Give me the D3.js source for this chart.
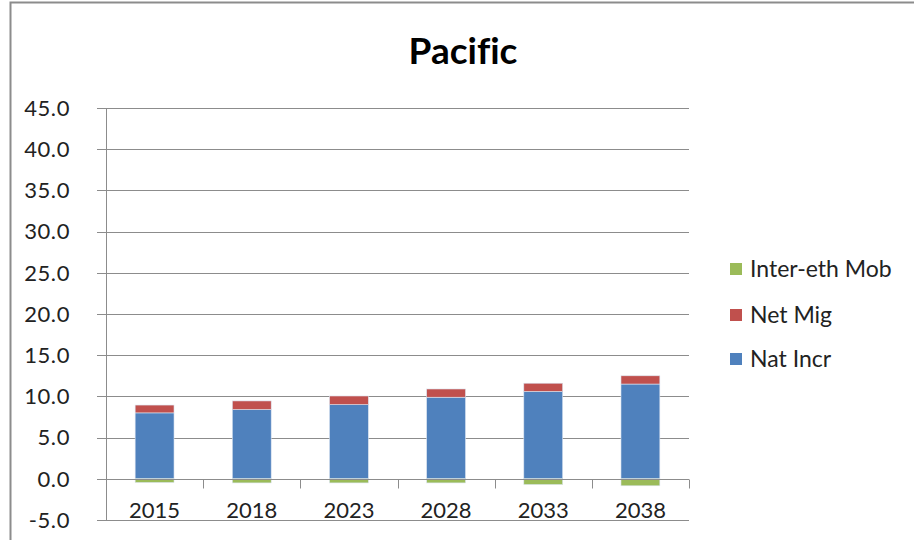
<!DOCTYPE html>
<html><head><meta charset="utf-8">
<script src="https://cdn.jsdelivr.net/npm/d3@7"></script>
<style>html,body{margin:0;padding:0;background:#fff;}svg{display:block;}text{font-variant-ligatures:none;font-feature-settings:"liga" 0;}</style>
</head><body>
<svg id="chart" width="914" height="540"></svg>
<script>
const years = ["2015","2018","2023","2028","2033","2038"];
const natIncr = [8.0, 8.4, 9.0, 9.9, 10.6, 11.5];
const netMig = [0.95, 1.05, 1.05, 1.0, 1.0, 1.0];
const interEthMob = [-0.45, -0.5, -0.5, -0.5, -0.7, -0.85];
const yTicks = [-5, 0, 5, 10, 15, 20, 25, 30, 35, 40, 45];
const seriesNames = ["Inter-eth Mob", "Net Mig", "Nat Incr"];
const seriesColors = ["#9BBB59", "#C0504D", "#4F81BD"];

(function () {
const font = "Lato, 'Open Sans', sans-serif";
const svg = d3.select("#chart");
svg.append("rect").attr("x", 10.5).attr("y", 2.5).attr("width", 960).attr("height", 600)
  .attr("fill", "#fff").attr("stroke", "#8c8c8c").attr("stroke-width", 2);

const pLeft = 106, pRight = 689, pTop = 108, pBottom = 520;
const x = d3.scaleBand().domain(years).range([pLeft, pRight]).paddingInner(0.6).paddingOuter(0.3);
const xb = d3.scaleBand().domain(years).range([pLeft, pRight]);
const y = d3.scaleLinear().domain([-5, 45]).range([pBottom, pTop]);

// gridlines
svg.append("g").selectAll("line").data(yTicks).join("line")
  .attr("x1", pLeft - 9).attr("x2", pRight).attr("y1", d => Math.round(y(d)) + 0.5).attr("y2", d => Math.round(y(d)) + 0.5)
  .attr("stroke", "#8c8c8c").attr("stroke-width", 1);

// y labels
svg.append("g").selectAll("text").data(yTicks).join("text")
  .attr("x", 70).attr("y", d => y(d)).attr("dy", "0.35em").attr("text-anchor", "end")
  .attr("font-family", font).attr("font-size", 22).attr("letter-spacing", 0.6).attr("fill", "#222")
  .text(d => d.toFixed(1));

// stacked bars
const data = years.map((yr, i) => ({yr, nat: natIncr[i], mig: netMig[i], mob: interEthMob[i]}));
const g = svg.append("g");
const bw = x.bandwidth();
data.forEach(d => {
  const segs = [
    {y0: 0, y1: d.nat, c: seriesColors[2]},
    {y0: d.nat, y1: d.nat + d.mig, c: seriesColors[1]},
    {y0: d.mob, y1: 0, c: seriesColors[0]}
  ];
  segs.forEach(s => {
    g.append("rect").attr("x", x(d.yr)).attr("width", bw)
      .attr("y", y(s.y1)).attr("height", y(s.y0) - y(s.y1))
      .attr("fill", s.c).attr("stroke", "#dbe5f1").attr("stroke-width", 0.6);
  });
});

// y axis line
svg.append("line").attr("x1", pLeft + 0.5).attr("x2", pLeft + 0.5).attr("y1", pTop).attr("y2", pBottom)
  .attr("stroke", "#8c8c8c").attr("stroke-width", 1);
// x axis at zero
const y0 = Math.round(y(0)) + 0.5;
svg.append("line").attr("x1", pLeft).attr("x2", pRight).attr("y1", y0).attr("y2", y0)
  .attr("stroke", "#8c8c8c");
svg.append("g").selectAll("line").data(years).join("line")
  .attr("x1", d => Math.round(xb(d) + xb.bandwidth()) + 0.5).attr("x2", d => Math.round(xb(d) + xb.bandwidth()) + 0.5)
  .attr("y1", y0).attr("y2", y0 + 9).attr("stroke", "#8c8c8c");

// x labels
svg.append("g").selectAll("text").data(years).join("text")
  .attr("x", d => xb(d) + xb.bandwidth() / 2).attr("y", 518).attr("text-anchor", "middle")
  .attr("font-family", font).attr("font-size", 22).attr("fill", "#222").text(d => d);

// title
svg.append("text").attr("x", 463).attr("y", 64).attr("text-anchor", "middle")
  .attr("font-family", font).attr("font-weight", "bold").attr("font-size", 37).attr("fill", "#000")
  .text("Pacific");

// legend
const leg = svg.append("g");
const legY = [269, 315, 359];
seriesNames.forEach((n, i) => {
  leg.append("rect").attr("x", 730).attr("y", legY[i] - 6).attr("width", 12).attr("height", 12).attr("fill", seriesColors[i]);
  leg.append("text").attr("x", 750).attr("y", legY[i]).attr("dy", "0.35em")
    .attr("font-family", font).attr("font-size", 23).attr("fill", "#222").text(n);
});
})();
</script>
</body></html>
